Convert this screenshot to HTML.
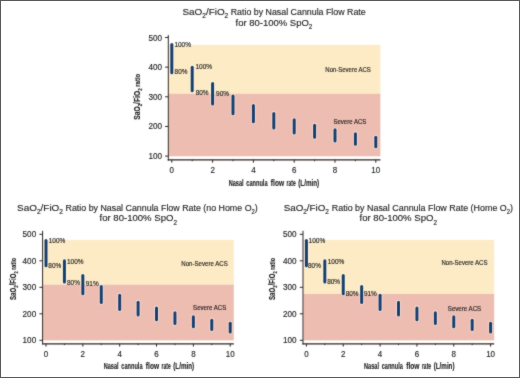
<!DOCTYPE html>
<html><head><meta charset="utf-8"><style>
html,body{margin:0;padding:0;background:#fff;overflow:hidden}
svg{display:block;will-change:transform}
text{font-family:"Liberation Sans", sans-serif;stroke:#222;stroke-width:0.14px;paint-order:stroke}
</style></head><body>
<svg width="520" height="378" viewBox="0 0 520 378" font-family='"Liberation Sans", sans-serif'>
<defs><filter id="soft" x="0" y="0" width="520" height="378" filterUnits="userSpaceOnUse" color-interpolation-filters="sRGB"><feConvolveMatrix order="3" kernelMatrix="0.025 0.075 0.025 0.075 0.6 0.075 0.025 0.075 0.025" edgeMode="duplicate"/></filter></defs>
<g filter="url(#soft)">
<rect x="0" y="0" width="520" height="378" fill="#ffffff"/>
<rect x="168.80" y="44.80" width="211.60" height="48.90" fill="#fdebc5"/>
<rect x="168.80" y="93.70" width="211.60" height="62.60" fill="#eebdb1"/>
<line x1="168.30" y1="35.00" x2="168.30" y2="160.50" stroke="#2e2520" stroke-width="1.0"/>
<line x1="167.70" y1="159.90" x2="380.40" y2="159.90" stroke="#2e2520" stroke-width="1.3"/>
<line x1="165.10" y1="156.10" x2="168.30" y2="156.10" stroke="#2e2520" stroke-width="1"/>
<line x1="165.10" y1="126.45" x2="168.30" y2="126.45" stroke="#2e2520" stroke-width="1"/>
<line x1="165.10" y1="96.80" x2="168.30" y2="96.80" stroke="#2e2520" stroke-width="1"/>
<line x1="165.10" y1="67.15" x2="168.30" y2="67.15" stroke="#2e2520" stroke-width="1"/>
<line x1="165.10" y1="37.50" x2="168.30" y2="37.50" stroke="#2e2520" stroke-width="1"/>
<line x1="171.80" y1="159.90" x2="171.80" y2="162.70" stroke="#2e2520" stroke-width="1"/>
<line x1="192.20" y1="159.90" x2="192.20" y2="161.20" stroke="#2e2520" stroke-width="1"/>
<line x1="212.60" y1="159.90" x2="212.60" y2="162.70" stroke="#2e2520" stroke-width="1"/>
<line x1="233.00" y1="159.90" x2="233.00" y2="161.20" stroke="#2e2520" stroke-width="1"/>
<line x1="253.40" y1="159.90" x2="253.40" y2="162.70" stroke="#2e2520" stroke-width="1"/>
<line x1="273.80" y1="159.90" x2="273.80" y2="161.20" stroke="#2e2520" stroke-width="1"/>
<line x1="294.20" y1="159.90" x2="294.20" y2="162.70" stroke="#2e2520" stroke-width="1"/>
<line x1="314.60" y1="159.90" x2="314.60" y2="161.20" stroke="#2e2520" stroke-width="1"/>
<line x1="335.00" y1="159.90" x2="335.00" y2="162.70" stroke="#2e2520" stroke-width="1"/>
<line x1="355.40" y1="159.90" x2="355.40" y2="161.20" stroke="#2e2520" stroke-width="1"/>
<line x1="375.80" y1="159.90" x2="375.80" y2="162.70" stroke="#2e2520" stroke-width="1"/>
<line x1="171.80" y1="44.56" x2="171.80" y2="72.80" stroke="#ffffff" stroke-opacity="0.5" stroke-width="4.8" stroke-linecap="round"/>
<line x1="171.80" y1="44.56" x2="171.80" y2="72.80" stroke="#173e6c" stroke-width="3.0" stroke-linecap="round"/>
<line x1="192.20" y1="67.15" x2="192.20" y2="90.87" stroke="#ffffff" stroke-opacity="0.5" stroke-width="4.8" stroke-linecap="round"/>
<line x1="192.20" y1="67.15" x2="192.20" y2="90.87" stroke="#173e6c" stroke-width="3.0" stroke-linecap="round"/>
<line x1="212.60" y1="83.51" x2="212.60" y2="103.96" stroke="#ffffff" stroke-opacity="0.5" stroke-width="4.8" stroke-linecap="round"/>
<line x1="212.60" y1="83.51" x2="212.60" y2="103.96" stroke="#173e6c" stroke-width="3.0" stroke-linecap="round"/>
<line x1="233.00" y1="95.90" x2="233.00" y2="113.87" stroke="#ffffff" stroke-opacity="0.5" stroke-width="4.8" stroke-linecap="round"/>
<line x1="233.00" y1="95.90" x2="233.00" y2="113.87" stroke="#173e6c" stroke-width="3.0" stroke-linecap="round"/>
<line x1="253.40" y1="105.61" x2="253.40" y2="121.64" stroke="#ffffff" stroke-opacity="0.5" stroke-width="4.8" stroke-linecap="round"/>
<line x1="253.40" y1="105.61" x2="253.40" y2="121.64" stroke="#173e6c" stroke-width="3.0" stroke-linecap="round"/>
<line x1="273.80" y1="113.43" x2="273.80" y2="127.90" stroke="#ffffff" stroke-opacity="0.5" stroke-width="4.8" stroke-linecap="round"/>
<line x1="273.80" y1="113.43" x2="273.80" y2="127.90" stroke="#173e6c" stroke-width="3.0" stroke-linecap="round"/>
<line x1="294.20" y1="119.86" x2="294.20" y2="133.04" stroke="#ffffff" stroke-opacity="0.5" stroke-width="4.8" stroke-linecap="round"/>
<line x1="294.20" y1="119.86" x2="294.20" y2="133.04" stroke="#173e6c" stroke-width="3.0" stroke-linecap="round"/>
<line x1="314.60" y1="125.24" x2="314.60" y2="137.34" stroke="#ffffff" stroke-opacity="0.5" stroke-width="4.8" stroke-linecap="round"/>
<line x1="314.60" y1="125.24" x2="314.60" y2="137.34" stroke="#173e6c" stroke-width="3.0" stroke-linecap="round"/>
<line x1="335.00" y1="129.81" x2="335.00" y2="141.00" stroke="#ffffff" stroke-opacity="0.5" stroke-width="4.8" stroke-linecap="round"/>
<line x1="335.00" y1="129.81" x2="335.00" y2="141.00" stroke="#173e6c" stroke-width="3.0" stroke-linecap="round"/>
<line x1="355.40" y1="133.73" x2="355.40" y2="144.14" stroke="#ffffff" stroke-opacity="0.5" stroke-width="4.8" stroke-linecap="round"/>
<line x1="355.40" y1="133.73" x2="355.40" y2="144.14" stroke="#173e6c" stroke-width="3.0" stroke-linecap="round"/>
<line x1="375.80" y1="137.14" x2="375.80" y2="146.86" stroke="#ffffff" stroke-opacity="0.5" stroke-width="4.8" stroke-linecap="round"/>
<line x1="375.80" y1="137.14" x2="375.80" y2="146.86" stroke="#173e6c" stroke-width="3.0" stroke-linecap="round"/>
<text x="162.00" y="159.10" font-size="8.4" fill="#222222" text-anchor="end" textLength="13.6" lengthAdjust="spacingAndGlyphs">100</text>
<text x="162.00" y="129.45" font-size="8.4" fill="#222222" text-anchor="end" textLength="13.6" lengthAdjust="spacingAndGlyphs">200</text>
<text x="162.00" y="99.80" font-size="8.4" fill="#222222" text-anchor="end" textLength="13.6" lengthAdjust="spacingAndGlyphs">300</text>
<text x="162.00" y="70.15" font-size="8.4" fill="#222222" text-anchor="end" textLength="13.6" lengthAdjust="spacingAndGlyphs">400</text>
<text x="162.00" y="40.50" font-size="8.4" fill="#222222" text-anchor="end" textLength="13.6" lengthAdjust="spacingAndGlyphs">500</text>
<text x="171.80" y="172.70" font-size="8.4" fill="#222222" text-anchor="middle" textLength="4.45" lengthAdjust="spacingAndGlyphs">0</text>
<text x="212.60" y="172.70" font-size="8.4" fill="#222222" text-anchor="middle" textLength="4.45" lengthAdjust="spacingAndGlyphs">2</text>
<text x="253.40" y="172.70" font-size="8.4" fill="#222222" text-anchor="middle" textLength="4.45" lengthAdjust="spacingAndGlyphs">4</text>
<text x="294.20" y="172.70" font-size="8.4" fill="#222222" text-anchor="middle" textLength="4.45" lengthAdjust="spacingAndGlyphs">6</text>
<text x="335.00" y="172.70" font-size="8.4" fill="#222222" text-anchor="middle" textLength="4.45" lengthAdjust="spacingAndGlyphs">8</text>
<text x="375.80" y="172.70" font-size="8.4" fill="#222222" text-anchor="middle" textLength="8.9" lengthAdjust="spacingAndGlyphs">10</text>
<text x="174.38" y="47.30" font-size="6.8" fill="#222222" textLength="16.6" lengthAdjust="spacingAndGlyphs">100%</text>
<text x="174.60" y="73.80" font-size="6.8" fill="#222222" textLength="12.9" lengthAdjust="spacingAndGlyphs">80%</text>
<text x="195.48" y="69.30" font-size="6.8" fill="#222222" textLength="16.6" lengthAdjust="spacingAndGlyphs">100%</text>
<text x="195.70" y="95.10" font-size="6.8" fill="#222222" textLength="12.9" lengthAdjust="spacingAndGlyphs">80%</text>
<text x="216.08" y="96.20" font-size="6.8" fill="#222222" textLength="12.9" lengthAdjust="spacingAndGlyphs">90%</text>
<text x="325.37" y="71.89" font-size="6.5" fill="#222222" textLength="45.50" lengthAdjust="spacingAndGlyphs">Non-Severe ACS</text>
<text x="333.45" y="123.54" font-size="6.5" fill="#222222" textLength="32.95" lengthAdjust="spacingAndGlyphs">Severe ACS</text>
<text x="228.65" y="185.70" font-size="9.8" font-weight="bold" fill="#222222" textLength="14.90" lengthAdjust="spacingAndGlyphs">Nasal</text>
<text x="246.25" y="185.70" font-size="9.8" font-weight="bold" fill="#222222" textLength="21.30" lengthAdjust="spacingAndGlyphs">cannula</text>
<text x="270.85" y="185.70" font-size="9.8" font-weight="bold" fill="#222222" textLength="13.20" lengthAdjust="spacingAndGlyphs">flow</text>
<text x="286.55" y="185.70" font-size="9.8" font-weight="bold" fill="#222222" textLength="9.10" lengthAdjust="spacingAndGlyphs">rate</text>
<text x="298.25" y="185.70" font-size="9.8" font-weight="bold" fill="#222222" textLength="20.90" lengthAdjust="spacingAndGlyphs">(L/min)</text>
<g transform="translate(140.20,119.80) rotate(-90)"><text x="0" y="0" font-size="8.8" font-weight="bold" fill="#222222" textLength="46.0" lengthAdjust="spacingAndGlyphs">SaO<tspan font-size="5.8" dy="2.2">2</tspan><tspan dy="-2.2">/FiO</tspan><tspan font-size="5.8" dy="2.2">2</tspan><tspan dy="-2.2" font-size="7.8"> ratio</tspan></text></g>
<text x="182.41" y="14.6" font-size="9.6" fill="#222222" textLength="45.85" lengthAdjust="spacingAndGlyphs"><tspan>SaO</tspan><tspan font-size="6.3" dy="3.2">2</tspan><tspan dy="-3.2">/FiO</tspan><tspan font-size="6.3" dy="3.2">2</tspan></text>
<text x="230.72" y="14.6" font-size="9.6" fill="#222222" textLength="135.00" lengthAdjust="spacingAndGlyphs"><tspan>Ratio by Nasal Cannula Flow Rate</tspan></text>
<text x="235.52" y="25.5" font-size="9.6" fill="#222222" textLength="76.80" lengthAdjust="spacingAndGlyphs"><tspan>for 80-100% SpO</tspan><tspan font-size="6.3" dy="3.2">2</tspan></text>
<rect x="43.10" y="239.90" width="190.70" height="44.70" fill="#fdebc5"/>
<rect x="43.10" y="284.60" width="190.70" height="55.80" fill="#eebdb1"/>
<line x1="42.60" y1="230.80" x2="42.60" y2="344.40" stroke="#2e2520" stroke-width="1.0"/>
<line x1="42.00" y1="343.80" x2="233.80" y2="343.80" stroke="#2e2520" stroke-width="1.3"/>
<line x1="39.40" y1="340.30" x2="42.60" y2="340.30" stroke="#2e2520" stroke-width="1"/>
<line x1="39.40" y1="313.80" x2="42.60" y2="313.80" stroke="#2e2520" stroke-width="1"/>
<line x1="39.40" y1="287.30" x2="42.60" y2="287.30" stroke="#2e2520" stroke-width="1"/>
<line x1="39.40" y1="260.80" x2="42.60" y2="260.80" stroke="#2e2520" stroke-width="1"/>
<line x1="39.40" y1="234.30" x2="42.60" y2="234.30" stroke="#2e2520" stroke-width="1"/>
<line x1="46.00" y1="343.80" x2="46.00" y2="346.60" stroke="#2e2520" stroke-width="1"/>
<line x1="64.42" y1="343.80" x2="64.42" y2="345.10" stroke="#2e2520" stroke-width="1"/>
<line x1="82.84" y1="343.80" x2="82.84" y2="346.60" stroke="#2e2520" stroke-width="1"/>
<line x1="101.26" y1="343.80" x2="101.26" y2="345.10" stroke="#2e2520" stroke-width="1"/>
<line x1="119.68" y1="343.80" x2="119.68" y2="346.60" stroke="#2e2520" stroke-width="1"/>
<line x1="138.10" y1="343.80" x2="138.10" y2="345.10" stroke="#2e2520" stroke-width="1"/>
<line x1="156.52" y1="343.80" x2="156.52" y2="346.60" stroke="#2e2520" stroke-width="1"/>
<line x1="174.94" y1="343.80" x2="174.94" y2="345.10" stroke="#2e2520" stroke-width="1"/>
<line x1="193.36" y1="343.80" x2="193.36" y2="346.60" stroke="#2e2520" stroke-width="1"/>
<line x1="211.78" y1="343.80" x2="211.78" y2="345.10" stroke="#2e2520" stroke-width="1"/>
<line x1="230.20" y1="343.80" x2="230.20" y2="346.60" stroke="#2e2520" stroke-width="1"/>
<line x1="46.00" y1="240.61" x2="46.00" y2="265.85" stroke="#ffffff" stroke-opacity="0.5" stroke-width="4.8" stroke-linecap="round"/>
<line x1="46.00" y1="240.61" x2="46.00" y2="265.85" stroke="#173e6c" stroke-width="3.0" stroke-linecap="round"/>
<line x1="64.42" y1="260.80" x2="64.42" y2="282.00" stroke="#ffffff" stroke-opacity="0.5" stroke-width="4.8" stroke-linecap="round"/>
<line x1="64.42" y1="260.80" x2="64.42" y2="282.00" stroke="#173e6c" stroke-width="3.0" stroke-linecap="round"/>
<line x1="82.84" y1="275.42" x2="82.84" y2="293.70" stroke="#ffffff" stroke-opacity="0.5" stroke-width="4.8" stroke-linecap="round"/>
<line x1="82.84" y1="275.42" x2="82.84" y2="293.70" stroke="#173e6c" stroke-width="3.0" stroke-linecap="round"/>
<line x1="101.26" y1="286.50" x2="101.26" y2="302.56" stroke="#ffffff" stroke-opacity="0.5" stroke-width="4.8" stroke-linecap="round"/>
<line x1="101.26" y1="286.50" x2="101.26" y2="302.56" stroke="#173e6c" stroke-width="3.0" stroke-linecap="round"/>
<line x1="119.68" y1="295.18" x2="119.68" y2="309.50" stroke="#ffffff" stroke-opacity="0.5" stroke-width="4.8" stroke-linecap="round"/>
<line x1="119.68" y1="295.18" x2="119.68" y2="309.50" stroke="#173e6c" stroke-width="3.0" stroke-linecap="round"/>
<line x1="138.10" y1="302.17" x2="138.10" y2="315.09" stroke="#ffffff" stroke-opacity="0.5" stroke-width="4.8" stroke-linecap="round"/>
<line x1="138.10" y1="302.17" x2="138.10" y2="315.09" stroke="#173e6c" stroke-width="3.0" stroke-linecap="round"/>
<line x1="156.52" y1="307.91" x2="156.52" y2="319.69" stroke="#ffffff" stroke-opacity="0.5" stroke-width="4.8" stroke-linecap="round"/>
<line x1="156.52" y1="307.91" x2="156.52" y2="319.69" stroke="#173e6c" stroke-width="3.0" stroke-linecap="round"/>
<line x1="174.94" y1="312.72" x2="174.94" y2="323.53" stroke="#ffffff" stroke-opacity="0.5" stroke-width="4.8" stroke-linecap="round"/>
<line x1="174.94" y1="312.72" x2="174.94" y2="323.53" stroke="#173e6c" stroke-width="3.0" stroke-linecap="round"/>
<line x1="193.36" y1="316.80" x2="193.36" y2="326.80" stroke="#ffffff" stroke-opacity="0.5" stroke-width="4.8" stroke-linecap="round"/>
<line x1="193.36" y1="316.80" x2="193.36" y2="326.80" stroke="#173e6c" stroke-width="3.0" stroke-linecap="round"/>
<line x1="211.78" y1="320.31" x2="211.78" y2="329.61" stroke="#ffffff" stroke-opacity="0.5" stroke-width="4.8" stroke-linecap="round"/>
<line x1="211.78" y1="320.31" x2="211.78" y2="329.61" stroke="#173e6c" stroke-width="3.0" stroke-linecap="round"/>
<line x1="230.20" y1="323.36" x2="230.20" y2="332.05" stroke="#ffffff" stroke-opacity="0.5" stroke-width="4.8" stroke-linecap="round"/>
<line x1="230.20" y1="323.36" x2="230.20" y2="332.05" stroke="#173e6c" stroke-width="3.0" stroke-linecap="round"/>
<text x="36.20" y="343.30" font-size="8.4" fill="#222222" text-anchor="end" textLength="13.6" lengthAdjust="spacingAndGlyphs">100</text>
<text x="36.20" y="316.80" font-size="8.4" fill="#222222" text-anchor="end" textLength="13.6" lengthAdjust="spacingAndGlyphs">200</text>
<text x="36.20" y="290.30" font-size="8.4" fill="#222222" text-anchor="end" textLength="13.6" lengthAdjust="spacingAndGlyphs">300</text>
<text x="36.20" y="263.80" font-size="8.4" fill="#222222" text-anchor="end" textLength="13.6" lengthAdjust="spacingAndGlyphs">400</text>
<text x="36.20" y="237.30" font-size="8.4" fill="#222222" text-anchor="end" textLength="13.6" lengthAdjust="spacingAndGlyphs">500</text>
<text x="46.00" y="356.60" font-size="8.4" fill="#222222" text-anchor="middle" textLength="4.45" lengthAdjust="spacingAndGlyphs">0</text>
<text x="82.84" y="356.60" font-size="8.4" fill="#222222" text-anchor="middle" textLength="4.45" lengthAdjust="spacingAndGlyphs">2</text>
<text x="119.68" y="356.60" font-size="8.4" fill="#222222" text-anchor="middle" textLength="4.45" lengthAdjust="spacingAndGlyphs">4</text>
<text x="156.52" y="356.60" font-size="8.4" fill="#222222" text-anchor="middle" textLength="4.45" lengthAdjust="spacingAndGlyphs">6</text>
<text x="193.36" y="356.60" font-size="8.4" fill="#222222" text-anchor="middle" textLength="4.45" lengthAdjust="spacingAndGlyphs">8</text>
<text x="230.20" y="356.60" font-size="8.4" fill="#222222" text-anchor="middle" textLength="8.9" lengthAdjust="spacingAndGlyphs">10</text>
<text x="48.78" y="242.70" font-size="6.8" fill="#222222" textLength="16.6" lengthAdjust="spacingAndGlyphs">100%</text>
<text x="48.30" y="268.10" font-size="6.8" fill="#222222" textLength="12.9" lengthAdjust="spacingAndGlyphs">80%</text>
<text x="66.98" y="263.60" font-size="6.8" fill="#222222" textLength="16.6" lengthAdjust="spacingAndGlyphs">100%</text>
<text x="67.00" y="284.50" font-size="6.8" fill="#222222" textLength="12.9" lengthAdjust="spacingAndGlyphs">80%</text>
<text x="85.78" y="285.60" font-size="6.8" fill="#222222" textLength="12.9" lengthAdjust="spacingAndGlyphs">91%</text>
<text x="181.27" y="265.64" font-size="6.5" fill="#222222" textLength="46.50" lengthAdjust="spacingAndGlyphs">Non-Severe ACS</text>
<text x="193.10" y="309.74" font-size="6.5" fill="#222222" textLength="33.20" lengthAdjust="spacingAndGlyphs">Severe ACS</text>
<text x="103.65" y="369.00" font-size="9.8" font-weight="bold" fill="#222222" textLength="14.90" lengthAdjust="spacingAndGlyphs">Nasal</text>
<text x="121.25" y="369.00" font-size="9.8" font-weight="bold" fill="#222222" textLength="21.30" lengthAdjust="spacingAndGlyphs">cannula</text>
<text x="145.85" y="369.00" font-size="9.8" font-weight="bold" fill="#222222" textLength="13.20" lengthAdjust="spacingAndGlyphs">flow</text>
<text x="161.55" y="369.00" font-size="9.8" font-weight="bold" fill="#222222" textLength="9.10" lengthAdjust="spacingAndGlyphs">rate</text>
<text x="173.25" y="369.00" font-size="9.8" font-weight="bold" fill="#222222" textLength="20.90" lengthAdjust="spacingAndGlyphs">(L/min)</text>
<g transform="translate(16.20,300.00) rotate(-90)"><text x="0" y="0" font-size="8.8" font-weight="bold" fill="#222222" textLength="42.0" lengthAdjust="spacingAndGlyphs">SaO<tspan font-size="5.8" dy="2.2">2</tspan><tspan dy="-2.2">/FiO</tspan><tspan font-size="5.8" dy="2.2">2</tspan><tspan dy="-2.2" font-size="7.8"> ratio</tspan></text></g>
<text x="17.06" y="210.6" font-size="9.6" fill="#222222" textLength="45.90" lengthAdjust="spacingAndGlyphs"><tspan>SaO</tspan><tspan font-size="6.3" dy="3.2">2</tspan><tspan dy="-3.2">/FiO</tspan><tspan font-size="6.3" dy="3.2">2</tspan></text>
<text x="65.52" y="210.6" font-size="9.6" fill="#222222" textLength="192.20" lengthAdjust="spacingAndGlyphs"><tspan>Ratio by Nasal Cannula Flow Rate (no Home O</tspan><tspan font-size="6.3" dy="3.2">2</tspan><tspan dy="-3.2">)</tspan></text>
<text x="99.52" y="221.3" font-size="9.6" fill="#222222" textLength="77.40" lengthAdjust="spacingAndGlyphs"><tspan>for 80-100% SpO</tspan><tspan font-size="6.3" dy="3.2">2</tspan></text>
<rect x="303.50" y="239.90" width="190.70" height="54.00" fill="#fdebc5"/>
<rect x="303.50" y="293.90" width="190.70" height="46.50" fill="#eebdb1"/>
<line x1="303.00" y1="230.80" x2="303.00" y2="344.40" stroke="#2e2520" stroke-width="1.0"/>
<line x1="302.40" y1="343.80" x2="494.20" y2="343.80" stroke="#2e2520" stroke-width="1.3"/>
<line x1="299.80" y1="340.30" x2="303.00" y2="340.30" stroke="#2e2520" stroke-width="1"/>
<line x1="299.80" y1="313.80" x2="303.00" y2="313.80" stroke="#2e2520" stroke-width="1"/>
<line x1="299.80" y1="287.30" x2="303.00" y2="287.30" stroke="#2e2520" stroke-width="1"/>
<line x1="299.80" y1="260.80" x2="303.00" y2="260.80" stroke="#2e2520" stroke-width="1"/>
<line x1="299.80" y1="234.30" x2="303.00" y2="234.30" stroke="#2e2520" stroke-width="1"/>
<line x1="306.40" y1="343.80" x2="306.40" y2="346.60" stroke="#2e2520" stroke-width="1"/>
<line x1="324.82" y1="343.80" x2="324.82" y2="345.10" stroke="#2e2520" stroke-width="1"/>
<line x1="343.24" y1="343.80" x2="343.24" y2="346.60" stroke="#2e2520" stroke-width="1"/>
<line x1="361.66" y1="343.80" x2="361.66" y2="345.10" stroke="#2e2520" stroke-width="1"/>
<line x1="380.08" y1="343.80" x2="380.08" y2="346.60" stroke="#2e2520" stroke-width="1"/>
<line x1="398.50" y1="343.80" x2="398.50" y2="345.10" stroke="#2e2520" stroke-width="1"/>
<line x1="416.92" y1="343.80" x2="416.92" y2="346.60" stroke="#2e2520" stroke-width="1"/>
<line x1="435.34" y1="343.80" x2="435.34" y2="345.10" stroke="#2e2520" stroke-width="1"/>
<line x1="453.76" y1="343.80" x2="453.76" y2="346.60" stroke="#2e2520" stroke-width="1"/>
<line x1="472.18" y1="343.80" x2="472.18" y2="345.10" stroke="#2e2520" stroke-width="1"/>
<line x1="490.60" y1="343.80" x2="490.60" y2="346.60" stroke="#2e2520" stroke-width="1"/>
<line x1="306.40" y1="240.61" x2="306.40" y2="265.85" stroke="#ffffff" stroke-opacity="0.5" stroke-width="4.8" stroke-linecap="round"/>
<line x1="306.40" y1="240.61" x2="306.40" y2="265.85" stroke="#173e6c" stroke-width="3.0" stroke-linecap="round"/>
<line x1="324.82" y1="260.80" x2="324.82" y2="282.00" stroke="#ffffff" stroke-opacity="0.5" stroke-width="4.8" stroke-linecap="round"/>
<line x1="324.82" y1="260.80" x2="324.82" y2="282.00" stroke="#173e6c" stroke-width="3.0" stroke-linecap="round"/>
<line x1="343.24" y1="275.42" x2="343.24" y2="293.70" stroke="#ffffff" stroke-opacity="0.5" stroke-width="4.8" stroke-linecap="round"/>
<line x1="343.24" y1="275.42" x2="343.24" y2="293.70" stroke="#173e6c" stroke-width="3.0" stroke-linecap="round"/>
<line x1="361.66" y1="286.50" x2="361.66" y2="302.56" stroke="#ffffff" stroke-opacity="0.5" stroke-width="4.8" stroke-linecap="round"/>
<line x1="361.66" y1="286.50" x2="361.66" y2="302.56" stroke="#173e6c" stroke-width="3.0" stroke-linecap="round"/>
<line x1="380.08" y1="295.18" x2="380.08" y2="309.50" stroke="#ffffff" stroke-opacity="0.5" stroke-width="4.8" stroke-linecap="round"/>
<line x1="380.08" y1="295.18" x2="380.08" y2="309.50" stroke="#173e6c" stroke-width="3.0" stroke-linecap="round"/>
<line x1="398.50" y1="302.17" x2="398.50" y2="315.09" stroke="#ffffff" stroke-opacity="0.5" stroke-width="4.8" stroke-linecap="round"/>
<line x1="398.50" y1="302.17" x2="398.50" y2="315.09" stroke="#173e6c" stroke-width="3.0" stroke-linecap="round"/>
<line x1="416.92" y1="307.91" x2="416.92" y2="319.69" stroke="#ffffff" stroke-opacity="0.5" stroke-width="4.8" stroke-linecap="round"/>
<line x1="416.92" y1="307.91" x2="416.92" y2="319.69" stroke="#173e6c" stroke-width="3.0" stroke-linecap="round"/>
<line x1="435.34" y1="312.72" x2="435.34" y2="323.53" stroke="#ffffff" stroke-opacity="0.5" stroke-width="4.8" stroke-linecap="round"/>
<line x1="435.34" y1="312.72" x2="435.34" y2="323.53" stroke="#173e6c" stroke-width="3.0" stroke-linecap="round"/>
<line x1="453.76" y1="316.80" x2="453.76" y2="326.80" stroke="#ffffff" stroke-opacity="0.5" stroke-width="4.8" stroke-linecap="round"/>
<line x1="453.76" y1="316.80" x2="453.76" y2="326.80" stroke="#173e6c" stroke-width="3.0" stroke-linecap="round"/>
<line x1="472.18" y1="320.31" x2="472.18" y2="329.61" stroke="#ffffff" stroke-opacity="0.5" stroke-width="4.8" stroke-linecap="round"/>
<line x1="472.18" y1="320.31" x2="472.18" y2="329.61" stroke="#173e6c" stroke-width="3.0" stroke-linecap="round"/>
<line x1="490.60" y1="323.36" x2="490.60" y2="332.05" stroke="#ffffff" stroke-opacity="0.5" stroke-width="4.8" stroke-linecap="round"/>
<line x1="490.60" y1="323.36" x2="490.60" y2="332.05" stroke="#173e6c" stroke-width="3.0" stroke-linecap="round"/>
<text x="296.60" y="343.30" font-size="8.4" fill="#222222" text-anchor="end" textLength="13.6" lengthAdjust="spacingAndGlyphs">100</text>
<text x="296.60" y="316.80" font-size="8.4" fill="#222222" text-anchor="end" textLength="13.6" lengthAdjust="spacingAndGlyphs">200</text>
<text x="296.60" y="290.30" font-size="8.4" fill="#222222" text-anchor="end" textLength="13.6" lengthAdjust="spacingAndGlyphs">300</text>
<text x="296.60" y="263.80" font-size="8.4" fill="#222222" text-anchor="end" textLength="13.6" lengthAdjust="spacingAndGlyphs">400</text>
<text x="296.60" y="237.30" font-size="8.4" fill="#222222" text-anchor="end" textLength="13.6" lengthAdjust="spacingAndGlyphs">500</text>
<text x="306.40" y="356.60" font-size="8.4" fill="#222222" text-anchor="middle" textLength="4.45" lengthAdjust="spacingAndGlyphs">0</text>
<text x="343.24" y="356.60" font-size="8.4" fill="#222222" text-anchor="middle" textLength="4.45" lengthAdjust="spacingAndGlyphs">2</text>
<text x="380.08" y="356.60" font-size="8.4" fill="#222222" text-anchor="middle" textLength="4.45" lengthAdjust="spacingAndGlyphs">4</text>
<text x="416.92" y="356.60" font-size="8.4" fill="#222222" text-anchor="middle" textLength="4.45" lengthAdjust="spacingAndGlyphs">6</text>
<text x="453.76" y="356.60" font-size="8.4" fill="#222222" text-anchor="middle" textLength="4.45" lengthAdjust="spacingAndGlyphs">8</text>
<text x="490.60" y="356.60" font-size="8.4" fill="#222222" text-anchor="middle" textLength="8.9" lengthAdjust="spacingAndGlyphs">10</text>
<text x="308.58" y="242.70" font-size="6.8" fill="#222222" textLength="16.6" lengthAdjust="spacingAndGlyphs">100%</text>
<text x="308.00" y="268.00" font-size="6.8" fill="#222222" textLength="12.9" lengthAdjust="spacingAndGlyphs">80%</text>
<text x="327.68" y="263.60" font-size="6.8" fill="#222222" textLength="16.6" lengthAdjust="spacingAndGlyphs">100%</text>
<text x="327.20" y="284.30" font-size="6.8" fill="#222222" textLength="12.9" lengthAdjust="spacingAndGlyphs">80%</text>
<text x="345.70" y="296.20" font-size="6.8" fill="#222222" textLength="12.9" lengthAdjust="spacingAndGlyphs">80%</text>
<text x="363.88" y="296.20" font-size="6.8" fill="#222222" textLength="12.9" lengthAdjust="spacingAndGlyphs">91%</text>
<text x="441.47" y="265.24" font-size="6.5" fill="#222222" textLength="46.00" lengthAdjust="spacingAndGlyphs">Non-Severe ACS</text>
<text x="447.80" y="310.94" font-size="6.5" fill="#222222" textLength="33.40" lengthAdjust="spacingAndGlyphs">Severe ACS</text>
<text x="364.05" y="369.00" font-size="9.8" font-weight="bold" fill="#222222" textLength="14.90" lengthAdjust="spacingAndGlyphs">Nasal</text>
<text x="381.65" y="369.00" font-size="9.8" font-weight="bold" fill="#222222" textLength="21.30" lengthAdjust="spacingAndGlyphs">cannula</text>
<text x="406.25" y="369.00" font-size="9.8" font-weight="bold" fill="#222222" textLength="13.20" lengthAdjust="spacingAndGlyphs">flow</text>
<text x="421.95" y="369.00" font-size="9.8" font-weight="bold" fill="#222222" textLength="9.10" lengthAdjust="spacingAndGlyphs">rate</text>
<text x="433.65" y="369.00" font-size="9.8" font-weight="bold" fill="#222222" textLength="20.90" lengthAdjust="spacingAndGlyphs">(L/min)</text>
<g transform="translate(274.90,300.00) rotate(-90)"><text x="0" y="0" font-size="8.8" font-weight="bold" fill="#222222" textLength="42.0" lengthAdjust="spacingAndGlyphs">SaO<tspan font-size="5.8" dy="2.2">2</tspan><tspan dy="-2.2">/FiO</tspan><tspan font-size="5.8" dy="2.2">2</tspan><tspan dy="-2.2" font-size="7.8"> ratio</tspan></text></g>
<text x="283.66" y="210.6" font-size="9.6" fill="#222222" textLength="45.30" lengthAdjust="spacingAndGlyphs"><tspan>SaO</tspan><tspan font-size="6.3" dy="3.2">2</tspan><tspan dy="-3.2">/FiO</tspan><tspan font-size="6.3" dy="3.2">2</tspan></text>
<text x="331.82" y="210.6" font-size="9.6" fill="#222222" textLength="181.20" lengthAdjust="spacingAndGlyphs"><tspan>Ratio by Nasal Cannula Flow Rate (Home O</tspan><tspan font-size="6.3" dy="3.2">2</tspan><tspan dy="-3.2">)</tspan></text>
<text x="359.52" y="221.3" font-size="9.6" fill="#222222" textLength="77.40" lengthAdjust="spacingAndGlyphs"><tspan>for 80-100% SpO</tspan><tspan font-size="6.3" dy="3.2">2</tspan></text>
</g>
<rect x="0.5" y="0.5" width="519" height="377" fill="none" stroke="#585858" stroke-width="1"/>
</svg>
</body></html>
